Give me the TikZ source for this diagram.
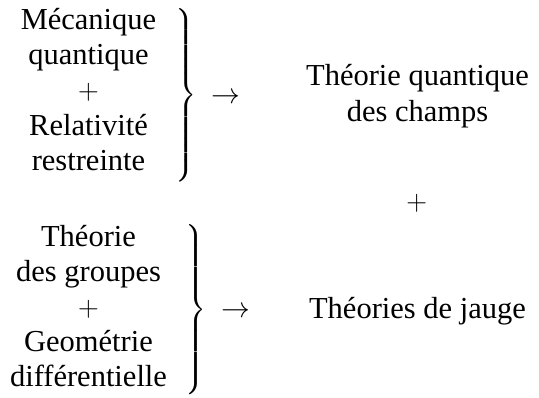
\RequirePackage{fix-cm}
\documentclass[tikz,border=0pt]{standalone}
\usepackage{amsmath}
\usepackage{fontspec}
\setmainfont{Liberation Serif}
\usepackage{graphicx}
\newcommand{\bigbrace}[1]{\resizebox*{!}{#1}{$\left.\vcenter{\hbox{\rule{0pt}{#1}}}\right\}$}}
\begin{document}
\begin{tikzpicture}[x=1pt,y=-1pt,
  every node/.style={inner sep=0pt,outer sep=0pt},
  txt/.style={anchor=base,font=\fontsize{30.5}{36}\selectfont},
  mth/.style={anchor=base,font=\fontsize{28.8}{35}\selectfont},
  brc/.style={anchor=center,font=\fontsize{28.8}{35}\selectfont}]
\useasboundingbox (0,0) rectangle (539,397);
% block 1
\node[txt] (a1) at (88.5,29) {Mécanique};
\node[txt] (a2) at (88.5,64.3) {quantique};
\node[mth] (a3) at (88.5,99.6) {$+$};
\node[txt] (a4) at (88.5,135) {Relativité};
\node[txt] (a5) at (88.5,170) {restreinte};
\node[brc] (b1) at (186,95.5) {\bigbrace{173pt}};
\node[mth] (ar1) at (225.5,103) {$\rightarrow$};
% block 2
\node[txt] (c1) at (88.5,246.7) {Théorie};
\node[txt] (c2) at (88.5,281.7) {des groupes};
\node[mth] (c3) at (88.5,316.7) {$+$};
\node[txt] (c4) at (88.5,351.7) {Geométrie};
\node[txt] (c5) at (88.5,386.7) {différentielle};
\node[brc] (b2) at (195.5,309.5) {\bigbrace{170pt}};
\node[mth] (ar2) at (235.5,317) {$\rightarrow$};
% right column
\node[txt] (r1) at (417.5,85) {Théorie quantique};
\node[txt] (r2) at (417.5,121.7) {des champs};
\node[mth] (rp) at (416.7,210) {$+$};
\node[txt] (r3) at (417.5,318) {Théories de jauge};
\end{tikzpicture}
\end{document}
